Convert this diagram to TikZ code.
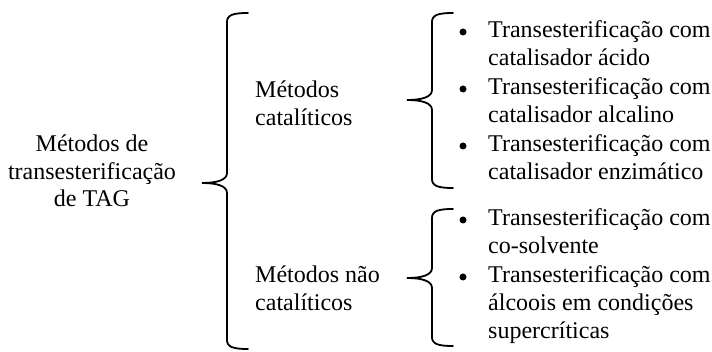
\documentclass[tikz,border=0pt]{standalone}
\usepackage{fontspec}
\setmainfont{Liberation Serif}
\usetikzlibrary{calc}

% curly brace through three named points: top end, tip, bottom end
\newcommand{\chave}[3]{%
  \draw[brace] let \p1=(#1), \p2=(#2), \p3=(#3) in
    (\x1,\y1) .. controls (\x2+31pt,\y1) and (\x2+25pt,\y1-2pt) .. (\x2+25pt,\y1-9pt)
    -- (\x2+25pt,\y2+10pt) .. controls (\x2+25pt,\y2+3pt) and (\x2+15pt,\y2) .. (\x2,\y2)
    .. controls (\x2+15pt,\y2) and (\x2+25pt,\y2-3pt) .. (\x2+25pt,\y2-10pt)
    -- (\x2+25pt,\y3+9pt) .. controls (\x2+25pt,\y3+2pt) and (\x2+31pt,\y3) .. (\x3,\y3);}

\begin{document}
\begin{tikzpicture}[
  x=1pt, y=1pt,
  txt/.style={inner sep=0pt, font=\fontsize{24}{27.6}\selectfont, align=left},
  bul/.style={circle, fill, inner sep=0pt, minimum size=7pt},
  brace/.style={line width=1.8pt, line cap=round}
]
\useasboundingbox (0,0) rectangle (712,352);

% Root
\node[txt, align=center] (raiz) at (92,181) {Métodos de\\transesterificação\\de TAG};

% Method groups
\node[txt, anchor=west] (cat) at (255,249) {Métodos\\catalíticos};
\node[txt, anchor=west] (ncat) at (255,64) {Métodos não\\catalíticos};

% Catalytic items (base = last line)
\node[bul] (b1) at (463,320) {};
\node[txt, anchor=base west] (acido) at (488,286.4) {Transesterificação com\\catalisador ácido};
\node[bul] (b2) at (463,263) {};
\node[txt, anchor=base west] (alcal) at (488,229.4) {Transesterificação com\\catalisador alcalino};
\node[bul] (b3) at (463,206) {};
\node[txt, anchor=base west] (enzim) at (488,172.4) {Transesterificação com\\catalisador enzimático};

% Non-catalytic items
\node[bul] (b4) at (463,132) {};
\node[txt, anchor=base west] (cosolv) at (488,98.4) {Transesterificação com\\co-solvente};
\node[bul] (b5) at (463,75) {};
\node[txt, anchor=base west] (superc) at (488,13.8) {Transesterificação com\\álcoois em condições\\supercríticas};

% Brace ends and tips
\coordinate (c0t) at (248,339);
\coordinate (c0m) at (202,169);
\coordinate (c0b) at (248,3);
\coordinate (c1t) at (453,339);
\coordinate (c1m) at (407,252);
\coordinate (c1b) at (453,164);
\coordinate (c2t) at (453,143);
\coordinate (c2m) at (407,74);
\coordinate (c2b) at (453,6);

% Braces
\chave{c0t}{c0m}{c0b}
\chave{c1t}{c1m}{c1b}
\chave{c2t}{c2m}{c2b}

\end{tikzpicture}
\end{document}
